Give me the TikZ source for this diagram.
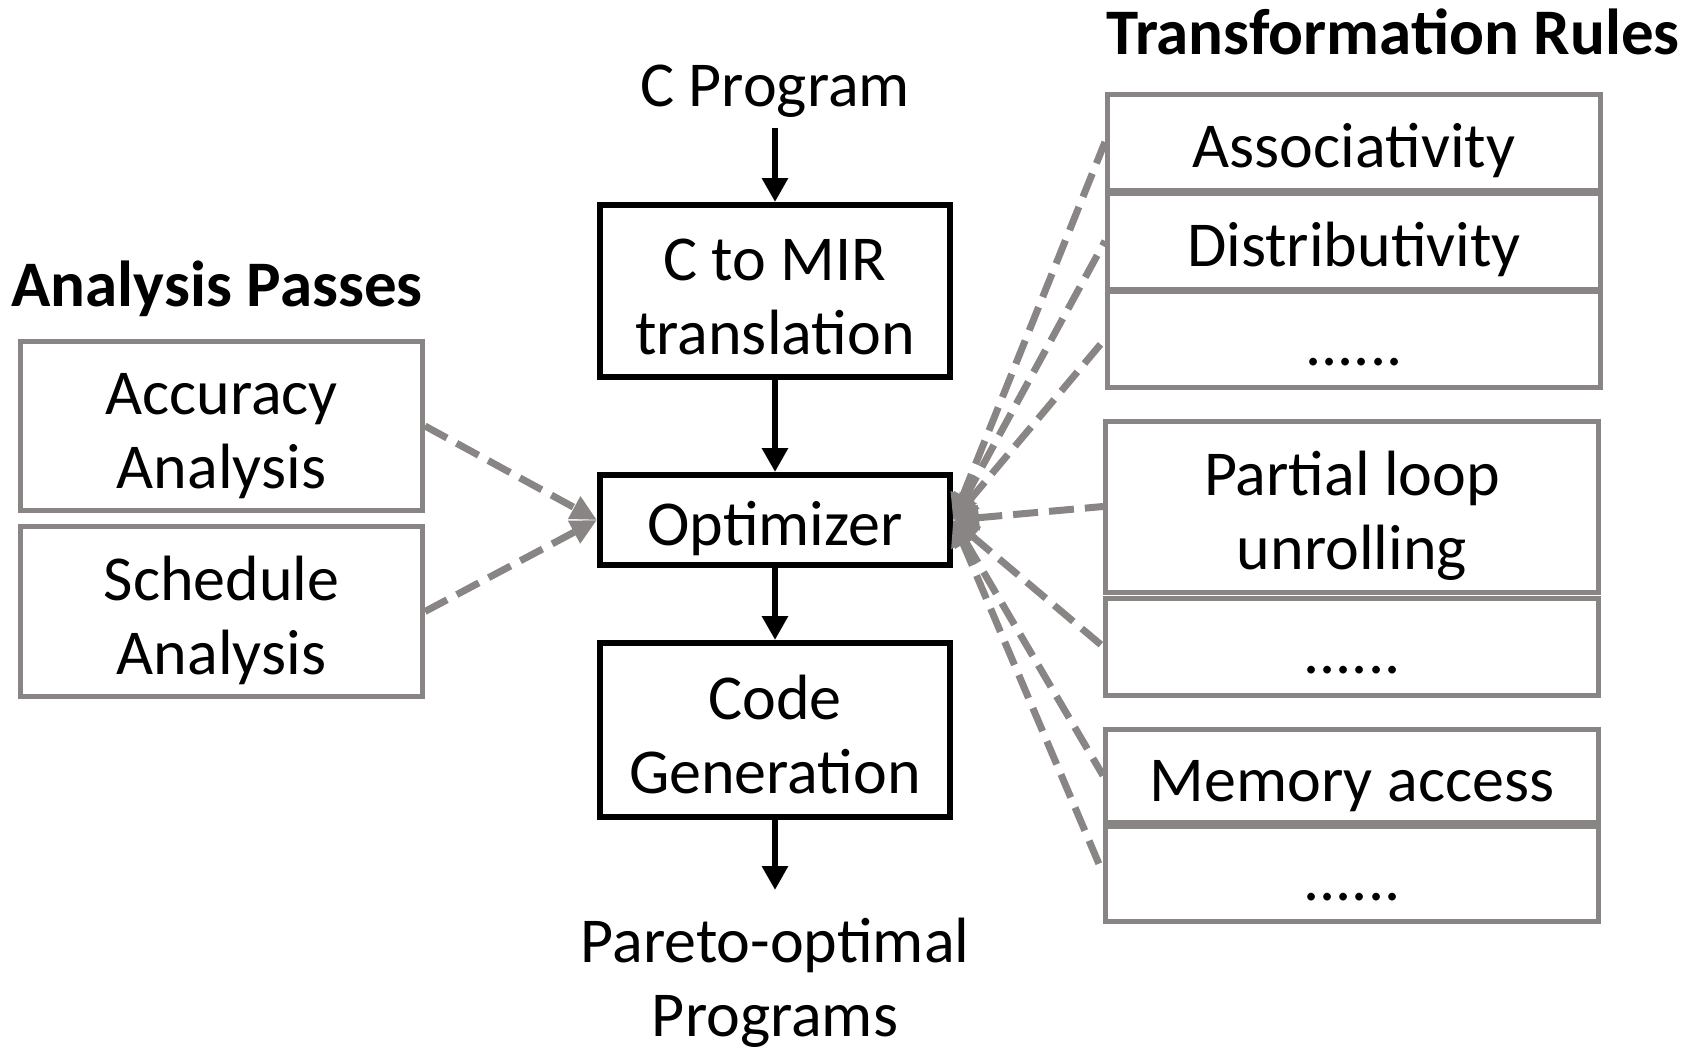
\documentclass[tikz,border=0pt]{standalone}
\usepackage{fontspec}
\setmainfont{Carlito}
\usetikzlibrary{arrows.meta}
\definecolor{rulegray}{RGB}{137,133,132}
% fixed ascent/descent so every box places its lines the same way
\newcommand\upstrut{\rule{0pt}{62pt}}
\newcommand\downstrut{\rule[-9pt]{0pt}{9pt}}
\begin{document}
\begin{tikzpicture}[x=1pt,y=-1pt,
  txt/.style={font=\fontsize{64}{74}\selectfont, inner sep=0pt, align=center},
  head/.style={font=\fontsize{65}{74}\selectfont\bfseries, inner sep=0pt},
  proc/.style={txt, draw=black, line width=6pt, minimum width=350pt},
  graybox/.style={txt, draw=rulegray, line width=5pt},
  flow/.style={line width=6pt, -{Triangle[length=24pt,width=25pt]}},
  feed/.style={draw=rulegray, line width=7pt, dash pattern=on 25pt off 11pt},
  graytip/.tip={Triangle[length=26pt,width=24pt]}
]
\useasboundingbox (0,0) rectangle (1697,1047);

% main compilation flow
\node[txt, anchor=base] (cprog) at (775,106) {C Program};
\node[proc, minimum height=172pt] (c2mir) at (775,291) {\upstrut C to MIR\\translation\downstrut};
\node[proc, minimum height=90pt] (opt) at (775,520) {\upstrut Optimizer\downstrut};
\node[proc, minimum height=174pt] (cgen) at (775,730) {\upstrut Code\\Generation\downstrut};
\node[txt, anchor=base] (pareto) at (775,1036) {Pareto-optimal\\Programs};

\draw[flow] ([yshift=-22pt]cprog.base) -- (c2mir);
\draw[flow] (c2mir) -- (opt);
\draw[flow] (opt) -- (cgen);
\draw[flow] (cgen.south) -- ++(0,70) coordinate (out);

% analysis passes
\node[head, anchor=base] (aphead) at (217,306) {Analysis Passes};
\node[graybox, minimum width=402pt, minimum height=169pt] (acc) at (221.5,426) {\upstrut Accuracy\\Analysis\downstrut};
\node[graybox, minimum width=402pt, minimum height=170pt] (sched) at (221.5,611.5) {\upstrut Schedule\\Analysis\downstrut};

\draw[feed, -graytip] (acc.east) -- (opt.west);
\draw[feed, -graytip] (sched.east) -- (opt.west);

% transformation rules
\node[head, anchor=base] (trhead) at (1393,54) {Transformation Rules};
\begin{scope}[every node/.append style={graybox, minimum width=493pt}]
  \node[minimum height=96pt] (assoc) at (1354,142) {\upstrut Associativity\downstrut};
  \node[minimum height=96pt] (distr) at (1354,241) {\upstrut Distributivity\downstrut};
  \node[minimum height=96pt] (more1) at (1354,339) {\upstrut ......\downstrut};
  \node[minimum height=171pt] (unroll) at (1352,506.5) {\upstrut Partial loop\\unrolling\downstrut};
  \node[minimum height=97pt] (more2) at (1352,646.5) {\upstrut ......\downstrut};
  \node[minimum height=93pt] (mem) at (1352,775.5) {\upstrut Memory access\downstrut};
  \node[minimum height=95pt] (more3) at (1352,873.5) {\upstrut ......\downstrut};
\end{scope}

\foreach \r in {assoc,distr,more1,unroll,more2,mem,more3}
  \draw[feed, graytip-] (opt.east) -- (\r.west);
\end{tikzpicture}
\end{document}
